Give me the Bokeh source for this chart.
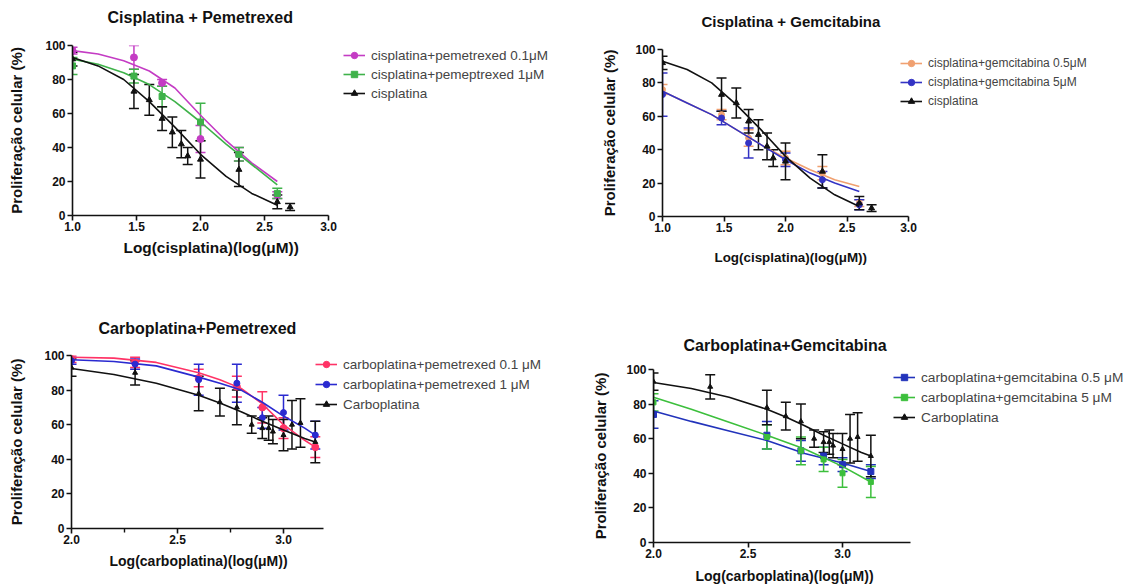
from bokeh.plotting import figure
from bokeh.models import (ColumnDataSource, Whisker, TeeHead, Legend, LegendItem,
                          Range1d, FixedTicker, PrintfTickFormatter, LinearAxis, Title)
from bokeh.layouts import column, row
from bokeh.embed import file_html
from bokeh.resources import INLINE

# ---------------- data: cisplatina panels ----------------
cis_x = [1.0, 1.48, 1.6, 1.7, 1.78, 1.85, 1.9, 2.0, 2.3, 2.6, 2.7]
cis_y = [92, 73, 68, 57, 49, 42, 35, 33, 27, 8, 5]
cis_err = [4, 10, 9, 7, 9, 8, 5, 11, 10, 4, 2]
cis_fit_x = [1.0, 1.2, 1.4, 1.6, 1.8, 2.0, 2.2, 2.4, 2.6]
cis_fit_y = [93, 88, 80, 67, 52, 36, 23, 13, 6]

pem_x = [1.0, 1.48, 1.7, 2.0, 2.3, 2.6]
pem01_y = [97, 93, 78, 45, 36, 12]
pem01_err = [2, 7, 2, 8, 4, 2]
pem1_y = [88, 82, 70, 55, 36, 13]
pem1_err = [5, 4, 6, 11, 4, 3]
pem01_fit_y = [97, 95, 91, 85, 75, 59, 44, 31, 20]
pem1_fit_y = [92, 89, 84, 77, 67, 55, 42, 30, 18]

gem_x = [1.0, 1.48, 1.7, 2.0, 2.3, 2.6]
gem05_y = [76, 61, 47, 35, 26, 8]
gem05_err = [3, 3, 5, 4, 4, 2]
gem5_y = [73, 59, 44, 34, 22, 7]
gem5_err = [13, 4, 9, 4, 5, 3]
gem05_fit_y = [75, 68, 61, 52, 43, 35, 28, 22, 18]
gem5_fit_y = [75, 68, 61, 52, 43, 34, 26, 20, 15]

# ---------------- data: carboplatina panels ----------------
carbo_x = [2.0, 2.3, 2.6, 2.7, 2.78, 2.85, 2.9, 2.93, 2.95, 3.0, 3.04, 3.08, 3.15]
carbo_y = [93, 90, 78, 73, 70, 60, 58, 58, 56, 54, 60, 61, 50]
carbo_err = [5, 7, 10, 8, 10, 5, 6, 7, 7, 9, 14, 14, 12]
carbo_fit_x = [2.0, 2.2, 2.4, 2.6, 2.7, 2.8, 2.9, 3.0, 3.1, 3.15]
carbo_fit_y = [92.5, 89, 84, 77, 72.5, 67.5, 62, 57, 52, 50]

cpem_x = [2.0, 2.3, 2.6, 2.78, 2.9, 3.0, 3.15]
cpem01_y = [98, 96, 87, 82, 70, 58, 47]
cpem01_err = [2, 3, 5, 6, 9, 6, 6]
cpem1_y = [97, 95, 86, 84, 64, 67, 54]
cpem1_err = [2, 3, 9, 11, 6, 10, 8]
cpem01_fit_y = [99, 98.5, 96, 90, 86, 81, 72, 60, 51, 47]
cpem1_fit_y = [97.5, 96.5, 94, 87.5, 84, 80, 73, 65, 58, 54]

cgem_x = [2.0, 2.6, 2.78, 2.9, 3.0, 3.15]
cgem05_y = [74, 62, 53, 50, 45, 41]
cgem05_err = [8, 8, 6, 5, 4, 4]
cgem5_y = [81, 61, 53, 48, 40, 35]
cgem5_err = [5, 7, 8, 7, 8, 9]
cgem_fit_x = [2.0, 2.2, 2.4, 2.6, 2.8, 3.0, 3.15]
cgem05_fit_y = [76, 70, 64.5, 59, 51.5, 46, 41]
cgem5_fit_y = [84, 77, 69.5, 62, 54, 44, 35]

y_ticks = [0, 20, 40, 60, 80, 100]
FONT = "Liberation Sans"
YLAB = "Proliferação celular (%)"


def add_series(p, x, y, err, fx, fy, color, marker, size):
    line = p.line(fx, fy, line_color=color, line_width=1.6)
    src = ColumnDataSource(dict(
        x=x, y=y,
        up=[a + b for a, b in zip(y, err)],
        lo=[a - b for a, b in zip(y, err)],
    ))
    w = Whisker(source=src, base="x", upper="up", lower="lo", dimension="height",
                line_color=color, line_width=1.5,
                upper_head=TeeHead(size=10, line_color=color, line_width=1.5),
                lower_head=TeeHead(size=10, line_color=color, line_width=1.5))
    p.add_layout(w)
    sc = p.scatter("x", "y", source=src, marker=marker, size=size,
                   fill_color=color, line_color=color)
    return [line, sc]


def spacer_axis(gap, at):
    # invisible axis (no line, no visible tick, empty label): reserves `gap` px
    return LinearAxis(ticker=FixedTicker(ticks=[at], minor_ticks=[]),
                      major_tick_out=gap, major_tick_in=0,
                      minor_tick_out=0, minor_tick_in=0,
                      axis_line_color=None, major_tick_line_color=None,
                      minor_tick_line_color=None,
                      major_label_overrides={at: ""},
                      major_label_standoff=0,
                      major_label_text_font_size="0px")


def make_panel(cfg):
    left, top, bottom = cfg["borders"]
    right = 2
    fw = cfg["width"] - left - right
    x0, x1 = cfg["xbounds"]
    x_end = x0 + fw / cfg["ppu"]        # frame extends right so legend fits
    p = figure(width=cfg["width"], height=cfg["height"], title=None,
               x_range=Range1d(x0, x_end), y_range=Range1d(0, 100),
               output_backend="svg", toolbar_location=None,
               min_border_left=left, min_border_right=right,
               min_border_top=top, min_border_bottom=bottom)
    p.frame_align = False
    p.outline_line_color = None
    p.grid.visible = False
    p.background_fill_color = "white"

    xa = p.xaxis[0]
    ya = p.yaxis[0]
    xa.bounds = (x0, x1)
    xa.ticker = FixedTicker(ticks=cfg["xticks"], minor_ticks=cfg["minor"])
    xa.formatter = PrintfTickFormatter(format="%.1f")
    ya.ticker = FixedTicker(ticks=y_ticks)

    for ax in (xa, ya):
        ax.axis_line_color = "#111111"
        ax.axis_line_width = 1.6
        ax.major_tick_line_color = "#111111"
        ax.major_tick_line_width = 1.6
        ax.major_tick_in = 0
        ax.major_tick_out = 5
        ax.minor_tick_line_color = "#111111"
        ax.minor_tick_line_width = 1.4
        ax.minor_tick_in = 0
        ax.minor_tick_out = 4
        ax.major_label_text_font = FONT
        ax.major_label_text_font_style = "bold"
        ax.major_label_text_font_size = "12px"
        ax.major_label_text_color = "#111111"
        ax.axis_label_text_font = FONT
        ax.axis_label_text_font_style = "bold"
        ax.axis_label_text_color = "#111111"
    ya.minor_tick_line_color = None
    xa.major_label_standoff = 1
    ya.major_label_standoff = 2
    ya.axis_label = YLAB
    ya.axis_label_text_font_size = "15px"
    ya.axis_label_standoff = cfg["ylab_standoff"]

    # title: spacer above the frame, then the bold title text
    p.add_layout(spacer_axis(cfg["title_gap"], x0), "above")
    p.add_layout(Title(text=cfg["title"], align="left", offset=cfg["title_off"],
                       standoff=0, vertical_align="bottom",
                       text_font=FONT, text_font_style="bold",
                       text_font_size=cfg["title_size"], text_color="#111111"),
                 "above")

    # x label: spacer below the axis, then the bold label text
    p.add_layout(spacer_axis(cfg["xlab_gap"], x0), "below")
    p.add_layout(Title(text=cfg["xlab"], align="left", offset=cfg["xlab_off"],
                       standoff=0, vertical_align="top",
                       text_font=FONT, text_font_style="bold",
                       text_font_size=cfg["xlab_size"], text_color="#111111"),
                 "below")

    items = []
    for s in cfg["series"]:
        rs = add_series(p, *s["data"], s["color"], s["marker"], s["size"])
        items.append(LegendItem(label=s["label"], renderers=rs))
    leg = Legend(items=items, location=cfg["legend_loc"],
                 border_line_alpha=0, background_fill_alpha=0,
                 padding=0, margin=0, spacing=cfg["legend_spacing"],
                 glyph_height=16, glyph_width=22, label_height=16,
                 label_standoff=6, label_text_font=FONT,
                 label_text_font_size=cfg["legend_size"],
                 label_text_color="#444444")
    p.add_layout(leg)
    return p


panels = [
    dict(title="Cisplatina + Pemetrexed", xlab="Log(cisplatina)(log(μM))",
         xbounds=(1.0, 3.0), ppu=128, xticks=[1.0, 1.5, 2.0, 2.5, 3.0], minor=[],
         width=567, height=300, borders=(72, 45, 85),
         title_off=35, title_gap=20, title_size="16px",
         xlab_off=51, xlab_gap=5, xlab_size="15.4px", ylab_standoff=17,
         legend_loc=(271, 114), legend_spacing=3, legend_size="13.5px",
         series=[
             dict(data=(pem_x, pem01_y, pem01_err, cis_fit_x, pem01_fit_y),
                  color="#c43cc4", marker="circle", size=7,
                  label="cisplatina+pemetrexed 0.1μM"),
             dict(data=(pem_x, pem1_y, pem1_err, cis_fit_x, pem1_fit_y),
                  color="#3fb24a", marker="square", size=6,
                  label="cisplatina+pemeptrexed 1μM"),
             dict(data=(cis_x, cis_y, cis_err, cis_fit_x, cis_fit_y),
                  color="#111111", marker="triangle", size=6,
                  label="cisplatina"),
         ]),
    dict(title="Cisplatina + Gemcitabina", xlab="Log(cisplatina)(log(μM))",
         xbounds=(1.0, 3.0), ppu=123, xticks=[1.0, 1.5, 2.0, 2.5, 3.0], minor=[],
         width=566, height=300, borders=(95, 49, 84),
         title_off=39, title_gap=20, title_size="15px",
         xlab_off=52, xlab_gap=15, xlab_size="13.4px", ylab_standoff=14,
         legend_loc=(238, 107), legend_spacing=3, legend_size="12px",
         series=[
             dict(data=(gem_x, gem05_y, gem05_err, cis_fit_x, gem05_fit_y),
                  color="#f0a070", marker="circle", size=6,
                  label="cisplatina+gemcitabina 0.5μM"),
             dict(data=(gem_x, gem5_y, gem5_err, cis_fit_x, gem5_fit_y),
                  color="#3333c4", marker="circle", size=6,
                  label="cisplatina+gemcitabina 5μM"),
             dict(data=(cis_x, cis_y, cis_err, cis_fit_x, cis_fit_y),
                  color="#111111", marker="triangle", size=6,
                  label="cisplatina"),
         ]),
    dict(title="Carboplatina+Pemetrexed", xlab="Log(carboplatina)(log(μM))",
         xbounds=(2.0, 3.19), ppu=212, xticks=[2.0, 2.5, 3.0], minor=[2.25, 2.75],
         width=567, height=287, borders=(71, 55, 59),
         title_off=27, title_gap=19, title_size="16px",
         xlab_off=38, xlab_gap=6, xlab_size="14px", ylab_standoff=16,
         legend_loc=(244, 116), legend_spacing=4, legend_size="13.5px",
         series=[
             dict(data=(cpem_x, cpem01_y, cpem01_err, carbo_fit_x, cpem01_fit_y),
                  color="#ff3366", marker="circle", size=7,
                  label="carboplatina+pemetrexed 0.1 μM"),
             dict(data=(cpem_x, cpem1_y, cpem1_err, carbo_fit_x, cpem1_fit_y),
                  color="#2a2ad0", marker="circle", size=6,
                  label="carboplatina+pemetrexed 1 μM"),
             dict(data=(carbo_x, carbo_y, carbo_err, carbo_fit_x, carbo_fit_y),
                  color="#111111", marker="triangle", size=5,
                  label="Carboplatina"),
         ]),
    dict(title="Carboplatina+Gemcitabina", xlab="Log(carboplatina)(log(μM))",
         xbounds=(2.0, 3.36), ppu=189, xticks=[2.0, 2.5, 3.0], minor=[],
         width=566, height=287, borders=(86, 69, 45),
         title_off=30, title_gap=16, title_size="16px",
         xlab_off=42, xlab_gap=7, xlab_size="14px", ylab_standoff=14,
         legend_loc=(240, 117), legend_spacing=4, legend_size="13.7px",
         series=[
             dict(data=(cgem_x, cgem05_y, cgem05_err, cgem_fit_x, cgem05_fit_y),
                  color="#2233bb", marker="square", size=6,
                  label="carboplatina+gemcitabina 0.5 μM"),
             dict(data=(cgem_x, cgem5_y, cgem5_err, cgem_fit_x, cgem5_fit_y),
                  color="#3cbf3c", marker="square", size=5,
                  label="carboplatina+gemcitabina 5 μM"),
             dict(data=(carbo_x, carbo_y, carbo_err, carbo_fit_x, carbo_fit_y),
                  color="#111111", marker="triangle", size=5,
                  label="Carboplatina"),
         ]),
]

figs = [make_panel(c) for c in panels]
layout = column(row(figs[0], figs[1]), row(figs[2], figs[3]))

open("out.html", "w").write(file_html(layout, INLINE))
